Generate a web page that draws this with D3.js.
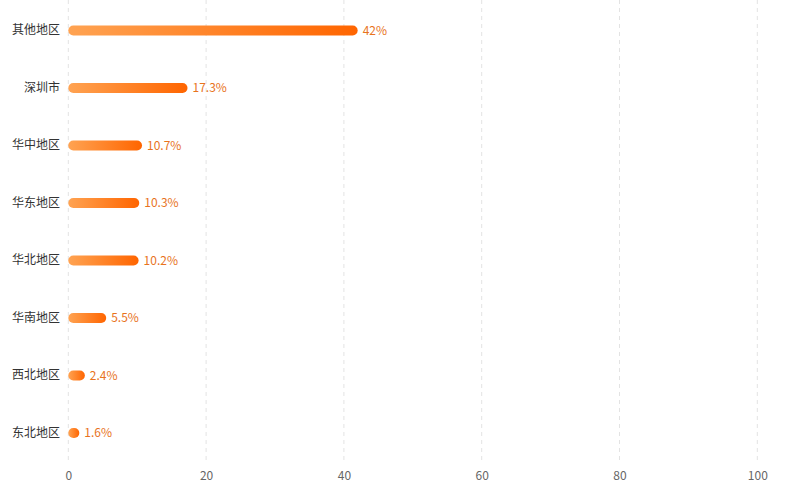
<!DOCTYPE html>
<html><head><meta charset="utf-8">
<script src="https://cdn.jsdelivr.net/npm/d3@7/dist/d3.min.js"></script>
<style>body{margin:0;background:#fff;}svg{display:block;}</style>
</head><body><svg id="c" width="787" height="497"></svg>
<script>
const categories = ["其他地区","深圳市","华中地区","华东地区","华北地区","华南地区","西北地区","东北地区"];
const values = [42, 17.3, 10.7, 10.3, 10.2, 5.5, 2.4, 1.6];
const labels = ["42%","17.3%","10.7%","10.3%","10.2%","5.5%","2.4%","1.6%"];
const xTicks = [0,20,40,60,80,100];

const svg = d3.select("#c");
const font = "'Microsoft YaHei','Noto Sans CJK SC','Noto Sans',sans-serif";
const x = d3.scaleLinear().domain([0,100]).range([68.3,757.3]);
const y = d3.scaleBand().domain(categories).range([1.8,461.8]).padding(0);

const defs = svg.append("defs");
const g = defs.append("linearGradient").attr("id","grad").attr("x1","0").attr("y1","0").attr("x2","1").attr("y2","0");
g.append("stop").attr("offset","0%").attr("stop-color","#ffa352");
g.append("stop").attr("offset","100%").attr("stop-color","#ff6500");

// grid
svg.append("g").selectAll("line").data(xTicks).join("line")
  .attr("x1",d=>x(d)).attr("x2",d=>x(d)).attr("y1",0).attr("y2",461)
  .attr("stroke","#e3e3e3").attr("stroke-width",1).attr("stroke-dasharray","4,4");

// x axis labels
const xa = svg.append("g").attr("transform","translate(0,461)")
  .call(d3.axisBottom(x).tickValues(xTicks).tickSize(0).tickPadding(10));
xa.select(".domain").remove();
xa.selectAll("text").attr("fill","#666").attr("font-size",12).attr("font-family",font);

// y axis labels
const ya = svg.append("g").attr("transform","translate(60,0)")
  .call(d3.axisLeft(y).tickSize(0).tickPadding(0));
ya.select(".domain").remove();
ya.selectAll("text").attr("fill","#333").attr("font-size",12).attr("font-family",font);

const bh = 10;
svg.append("g").selectAll("rect").data(values).join("rect")
  .attr("x",x(0)).attr("y",(d,i)=>y(categories[i])+y.bandwidth()/2-bh/2)
  .attr("width",d=>x(d)-x(0)).attr("height",bh)
  .attr("rx",bh/2).attr("ry",bh/2)
  .attr("fill","url(#grad)");

svg.append("g").selectAll("text").data(values).join("text")
  .attr("x",d=>x(d)+5).attr("y",(d,i)=>y(categories[i])+y.bandwidth()/2)
  .attr("dy","0.35em")
  .attr("fill","#e8731d").attr("font-size",12).attr("font-family",font)
  .text((d,i)=>labels[i]);
</script></body></html>
